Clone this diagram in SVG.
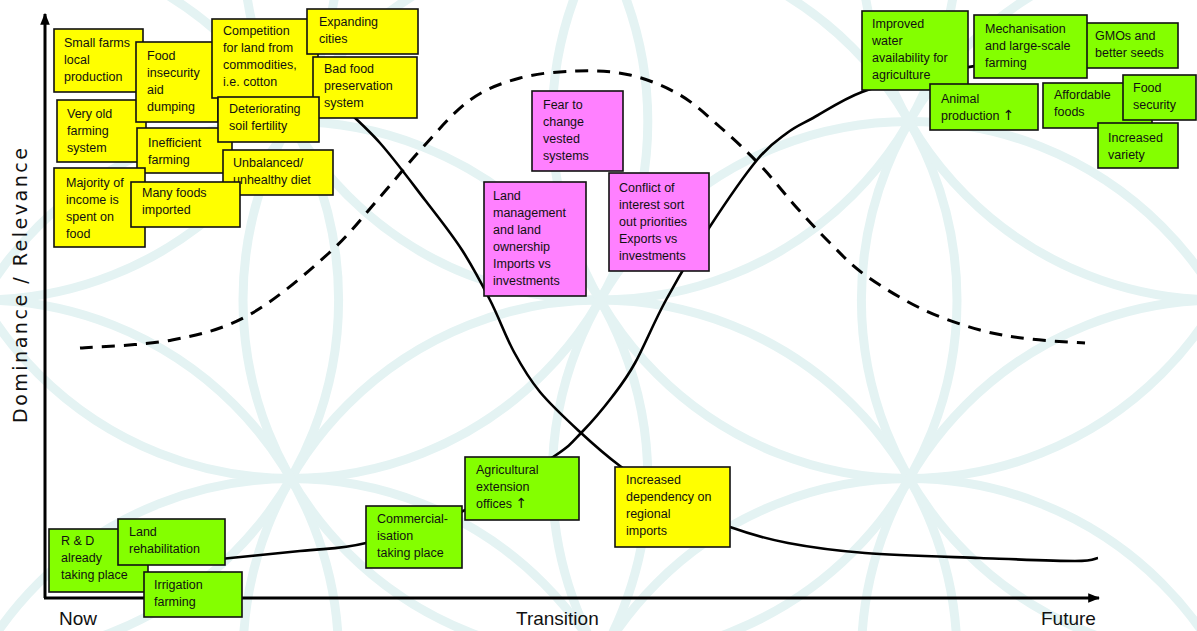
<svg xmlns="http://www.w3.org/2000/svg" width="1197" height="631" viewBox="0 0 1197 631">
<style>
.bg{fill:none;stroke:#e4f3f3;stroke-width:9}
.box{stroke:#111;stroke-width:1.6}
.y{fill:#ffff00}.g{fill:#84ff00}.p{fill:#ff80ff}
.t{font-family:"Liberation Sans",Arial,sans-serif;font-size:12.5px;fill:#111}
.arr{font-family:"DejaVu Sans",sans-serif;font-size:14px}
.ax{font-family:"Liberation Sans",Arial,sans-serif;font-size:19px;fill:#111}
.curve{fill:none;stroke:#000;stroke-width:2.6}
.dash{fill:none;stroke:#000;stroke-width:3;stroke-dasharray:13 9}
.axis{fill:none;stroke:#000;stroke-width:3}
</style>
<defs>
<marker id="ah" viewBox="0 0 10 10" refX="9" refY="5" markerWidth="4" markerHeight="4" orient="auto" markerUnits="strokeWidth"><path d="M0,1 L10,5 L0,9 z" fill="#000"/></marker>
</defs>
<rect width="1197" height="631" fill="#fff"/>
<g id="background">
<circle class="bg" cx="600" cy="300" r="357"/>
<circle class="bg" cx="600" cy="-57" r="357"/>
<circle class="bg" cx="600" cy="657" r="357"/>
<circle class="bg" cx="290.8" cy="121.5" r="357"/>
<circle class="bg" cx="290.8" cy="478.5" r="357"/>
<circle class="bg" cx="909.2" cy="121.5" r="357"/>
<circle class="bg" cx="909.2" cy="478.5" r="357"/>
<circle class="bg" cx="-18.4" cy="300" r="357"/>
<circle class="bg" cx="1218.4" cy="300" r="357"/>
<circle class="bg" cx="290.8" cy="835.5" r="357"/>
<circle class="bg" cx="909.2" cy="835.5" r="357"/>
<circle class="bg" cx="-18.4" cy="657" r="357"/>
<circle class="bg" cx="1218.4" cy="657" r="357"/>
<circle class="bg" cx="-18.4" cy="-57" r="357"/>
<circle class="bg" cx="1218.4" cy="-57" r="357"/>
</g>
<g id="axes">
<line class="axis" x1="45" y1="598" x2="45" y2="14" marker-end="url(#ah)"/>
<line class="axis" x1="44" y1="598" x2="1099" y2="598" marker-end="url(#ah)"/>
<text class="ax" x="59" y="625">Now</text>
<text class="ax" x="516" y="625">Transition</text>
<text class="ax" x="1041" y="625">Future</text>
<text transform="translate(27,423) rotate(-90)" x="0" y="0" style="font-family:'DejaVu Sans',Verdana,sans-serif;font-size:19px;fill:#111" textLength="275" lengthAdjust="spacing">Dominance / Relevance</text>
</g>
<g id="connectors">
<path class="dash" d="M80,348 C95.3,346.7 143.8,345.5 172,340 C200.2,334.5 222.8,329.5 249,315 C275.2,300.5 307.2,272.7 329,253 C350.8,233.3 364.3,214.7 380,197 C395.7,179.3 408,163.2 423,147 C438,130.8 453.8,111.5 470,100 C486.2,88.5 502.2,82.8 520,78 C537.8,73.2 558.7,71.5 577,71 C595.3,70.5 612.8,71 630,75 C647.2,79 665,86.3 680,95 C695,103.7 706.7,115.3 720,127 C733.3,138.7 747.2,151.5 760,165 C772.8,178.5 785.3,195 797,208 C808.7,221 818.7,231.8 830,243 C841.3,254.2 849.7,264 865,275 C880.3,286 902.8,299.8 922,309 C941.2,318.2 962,325 980,330 C998,335 1012.5,336.8 1030,339 C1047.5,341.2 1075.8,342.3 1085,343"/>
<path class="curve" d="M340,104 C346.7,110.5 365.8,127 380,143 C394.2,159 411.3,182.2 425,200 C438.7,217.8 451.2,233.3 462,250 C472.8,266.7 481.3,283 490,300 C498.7,317 505.7,336.7 514,352 C522.3,367.3 529,378.7 540,392 C551,405.3 566.7,419.7 580,432 C593.3,444.3 604.2,454.2 620,466 C635.8,477.8 656.7,492.8 675,503 C693.3,513.2 711.2,520.3 730,527 C748.8,533.7 765.5,538.7 788,543 C810.5,547.3 833,550.5 865,553 C897,555.5 945,556.7 980,558 C1015,559.3 1055.3,561 1075,561 C1094.7,561 1094.2,558.5 1098,558"/>
<path class="curve" d="M200,561 C216.7,559.3 272.3,554 300,551 C327.7,548 338.8,549.7 366,543 C393.2,536.3 431.8,525.3 463,511 C494.2,496.7 533.2,470.2 553,457 C572.8,443.8 572.2,442 582,432 C591.8,422 603.2,408.5 612,397 C620.8,385.5 626,379.2 635,363 C644,346.8 653.7,322.5 666,300 C678.3,277.5 693.8,251.3 709,228 C724.2,204.7 744,175.8 757,160 C770,144.2 777.7,140 787,133 C796.3,126 800.5,124.8 813,118 C825.5,111.2 842.5,99.3 862,92 C881.5,84.7 907,79 930,74 C953,69 988.3,64 1000,62"/>
</g>
<g id="n-small-farms"><rect class="box y" x="54" y="29" width="89" height="63"/><text class="t" x="64" y="47"><tspan x="64">Small farms</tspan><tspan x="64" dy="17">local</tspan><tspan x="64" dy="17">production</tspan></text></g>
<g id="n-very-old"><rect class="box y" x="57" y="100" width="89" height="62"/><text class="t" x="67" y="118"><tspan x="67">Very old</tspan><tspan x="67" dy="17">farming</tspan><tspan x="67" dy="17">system</tspan></text></g>
<g id="n-food-insecurity"><rect class="box y" x="136" y="42" width="82" height="80"/><text class="t" x="147" y="60"><tspan x="147">Food</tspan><tspan x="147" dy="17">insecurity</tspan><tspan x="147" dy="17">aid</tspan><tspan x="147" dy="17">dumping</tspan></text></g>
<g id="n-competition"><rect class="box y" x="212" y="19" width="106" height="79"/><text class="t" x="223" y="35"><tspan x="223">Competition</tspan><tspan x="223" dy="17">for land from</tspan><tspan x="223" dy="17">commodities,</tspan><tspan x="223" dy="17">i.e. cotton</tspan></text></g>
<g id="n-expanding"><rect class="box y" x="307" y="9" width="111" height="45"/><text class="t" x="319" y="26"><tspan x="319">Expanding</tspan><tspan x="319" dy="17">cities</tspan></text></g>
<g id="n-bad-food"><rect class="box y" x="313" y="57" width="104" height="61"/><text class="t" x="324" y="73"><tspan x="324">Bad food</tspan><tspan x="324" dy="17">preservation</tspan><tspan x="324" dy="17">system</tspan></text></g>
<g id="n-inefficient"><rect class="box y" x="137" y="128" width="95" height="45"/><text class="t" x="148" y="147"><tspan x="148">Inefficient</tspan><tspan x="148" dy="17">farming</tspan></text></g>
<g id="n-deteriorating"><rect class="box y" x="218" y="97" width="101" height="45"/><text class="t" x="229" y="113"><tspan x="229">Deteriorating</tspan><tspan x="229" dy="17">soil fertility</tspan></text></g>
<g id="n-unbalanced"><rect class="box y" x="223" y="150" width="110" height="45"/><text class="t" x="233" y="167"><tspan x="233">Unbalanced/</tspan><tspan x="233" dy="17">unhealthy diet</tspan></text></g>
<g id="n-majority"><rect class="box y" x="54" y="168" width="91" height="79"/><text class="t" x="66" y="187"><tspan x="66">Majority of</tspan><tspan x="66" dy="17">income is</tspan><tspan x="66" dy="17">spent on</tspan><tspan x="66" dy="17">food</tspan></text></g>
<g id="n-many-foods"><rect class="box y" x="131" y="182" width="109" height="45"/><text class="t" x="142" y="197"><tspan x="142">Many foods</tspan><tspan x="142" dy="17">imported</tspan></text></g>
<g id="n-fear"><rect class="box p" x="532" y="91" width="91" height="80"/><text class="t" x="543" y="109"><tspan x="543">Fear to</tspan><tspan x="543" dy="17">change</tspan><tspan x="543" dy="17">vested</tspan><tspan x="543" dy="17">systems</tspan></text></g>
<g id="n-land-management"><rect class="box p" x="484" y="182" width="102" height="114"/><text class="t" x="493" y="200"><tspan x="493">Land</tspan><tspan x="493" dy="17">management</tspan><tspan x="493" dy="17">and land</tspan><tspan x="493" dy="17">ownership</tspan><tspan x="493" dy="17">Imports vs</tspan><tspan x="493" dy="17">investments</tspan></text></g>
<g id="n-conflict"><rect class="box p" x="609" y="173" width="100" height="98"/><text class="t" x="619" y="192"><tspan x="619">Conflict of</tspan><tspan x="619" dy="17">interest sort</tspan><tspan x="619" dy="17">out priorities</tspan><tspan x="619" dy="17">Exports vs</tspan><tspan x="619" dy="17">investments</tspan></text></g>
<g id="n-dependency"><rect class="box y" x="615" y="467" width="115" height="80"/><text class="t" x="626" y="484"><tspan x="626">Increased</tspan><tspan x="626" dy="17">dependency on</tspan><tspan x="626" dy="17">regional</tspan><tspan x="626" dy="17">imports</tspan></text></g>
<g id="n-rd"><rect class="box g" x="49" y="529" width="99" height="63"/><text class="t" x="61" y="545"><tspan x="61">R &amp; D</tspan><tspan x="61" dy="17">already</tspan><tspan x="61" dy="17">taking place</tspan></text></g>
<g id="n-land-rehab"><rect class="box g" x="118" y="519" width="107" height="46"/><text class="t" x="129" y="536"><tspan x="129">Land</tspan><tspan x="129" dy="17">rehabilitation</tspan></text></g>
<g id="n-irrigation"><rect class="box g" x="144" y="572" width="98" height="45"/><text class="t" x="154" y="589"><tspan x="154">Irrigation</tspan><tspan x="154" dy="17">farming</tspan></text></g>
<g id="n-commercial"><rect class="box g" x="366" y="506" width="96" height="62"/><text class="t" x="377" y="523"><tspan x="377">Commercial-</tspan><tspan x="377" dy="17">isation</tspan><tspan x="377" dy="17">taking place</tspan></text></g>
<g id="n-agricultural"><rect class="box g" x="465" y="457" width="114" height="63"/><text class="t" x="476" y="474"><tspan x="476">Agricultural</tspan><tspan x="476" dy="17">extension</tspan><tspan x="476" dy="17">offices <tspan class="arr">↑</tspan></tspan></text></g>
<g id="n-improved-water"><rect class="box g" x="862" y="11" width="106" height="79"/><text class="t" x="872" y="28"><tspan x="872">Improved</tspan><tspan x="872" dy="17">water</tspan><tspan x="872" dy="17">availability for</tspan><tspan x="872" dy="17">agriculture</tspan></text></g>
<g id="n-gmos"><rect class="box g" x="1083" y="23" width="95" height="45"/><text class="t" x="1095" y="40"><tspan x="1095">GMOs and</tspan><tspan x="1095" dy="17">better seeds</tspan></text></g>
<g id="n-mechanisation"><rect class="box g" x="974" y="15" width="113" height="63"/><text class="t" x="985" y="33"><tspan x="985">Mechanisation</tspan><tspan x="985" dy="17">and large-scale</tspan><tspan x="985" dy="17">farming</tspan></text></g>
<g id="n-animal"><rect class="box g" x="930" y="84" width="108" height="46"/><text class="t" x="941" y="103"><tspan x="941">Animal</tspan><tspan x="941" dy="17">production <tspan class="arr">↑</tspan></tspan></text></g>
<g id="n-affordable"><rect class="box g" x="1043" y="83" width="109" height="45"/><text class="t" x="1054" y="99"><tspan x="1054">Affordable</tspan><tspan x="1054" dy="17">foods</tspan></text></g>
<g id="n-food-security"><rect class="box g" x="1123" y="75" width="73" height="45"/><text class="t" x="1133" y="92"><tspan x="1133">Food</tspan><tspan x="1133" dy="17">security</tspan></text></g>
<g id="n-variety"><rect class="box g" x="1098" y="123" width="80" height="45"/><text class="t" x="1108" y="142"><tspan x="1108">Increased</tspan><tspan x="1108" dy="17">variety</tspan></text></g>
</svg>
